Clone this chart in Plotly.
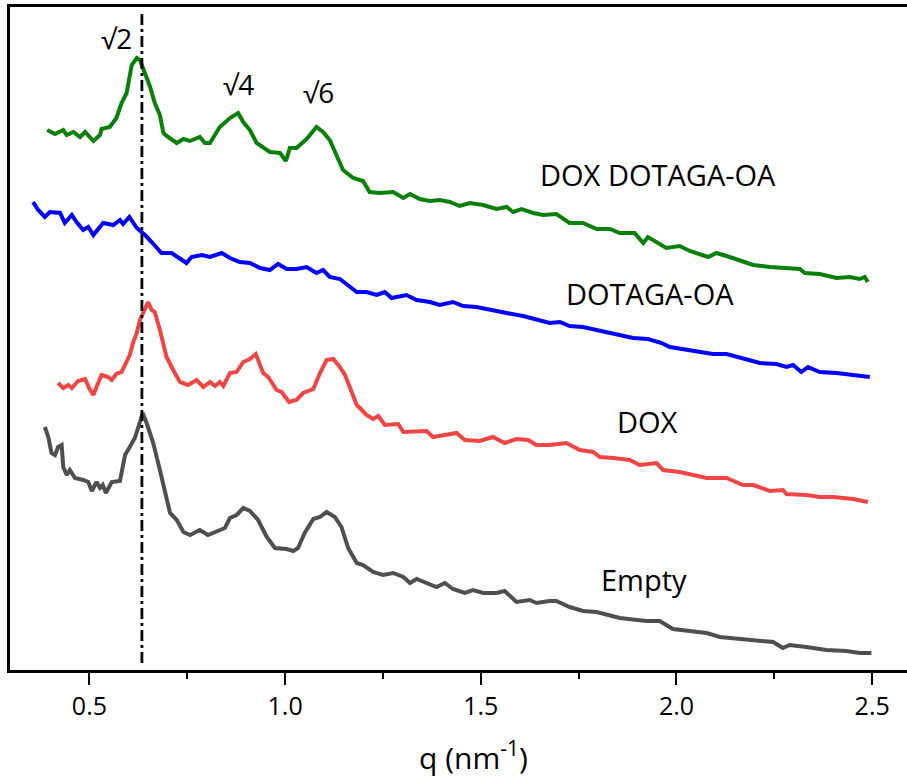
import plotly.graph_objects as go

# ---------------- data (q in nm^-1, intensity in arbitrary offset units) ----------------
q_green = [0.392, 0.412, 0.433, 0.442, 0.459, 0.476, 0.489, 0.510, 0.527, 0.531, 0.552, 0.569, 0.582, 0.595,
           0.608, 0.621, 0.629, 0.642, 0.655, 0.667, 0.680, 0.689, 0.697, 0.723, 0.740, 0.757, 0.782, 0.795,
           0.808, 0.833, 0.859, 0.880, 0.893, 0.910, 0.927, 0.961, 0.987, 1.002, 1.012, 1.029, 1.055, 1.080,
           1.097, 1.114, 1.131, 1.148, 1.174, 1.199, 1.216, 1.242, 1.276, 1.302, 1.319, 1.344, 1.370, 1.395,
           1.421, 1.446, 1.472, 1.506, 1.540, 1.566, 1.583, 1.604, 1.634, 1.659, 1.693, 1.727, 1.761, 1.796,
           1.830, 1.855, 1.893, 1.915, 1.927, 1.974, 2.008, 2.034, 2.081, 2.102, 2.136, 2.179, 2.196, 2.238,
           2.272, 2.315, 2.328, 2.366, 2.409, 2.443, 2.468, 2.481, 2.489]
i_green = [5.40, 5.36, 5.40, 5.35, 5.38, 5.33, 5.38, 5.29, 5.35, 5.41, 5.43, 5.52, 5.67, 5.77,
           6.05, 6.12, 6.10, 5.97, 5.83, 5.67, 5.55, 5.37, 5.34, 5.27, 5.31, 5.29, 5.33, 5.27,
           5.27, 5.43, 5.52, 5.57, 5.48, 5.40, 5.27, 5.18, 5.17, 5.09, 5.22, 5.22, 5.31, 5.43,
           5.38, 5.30, 5.15, 5.00, 4.92, 4.89, 4.78, 4.77, 4.78, 4.72, 4.76, 4.71, 4.69, 4.70,
           4.68, 4.64, 4.67, 4.65, 4.61, 4.63, 4.58, 4.61, 4.57, 4.55, 4.56, 4.47, 4.47, 4.41,
           4.41, 4.37, 4.37, 4.27, 4.33, 4.22, 4.24, 4.19, 4.13, 4.17, 4.13, 4.08, 4.05, 4.03,
           4.02, 4.01, 3.97, 3.96, 3.92, 3.93, 3.91, 3.93, 3.88]

q_blue = [0.356, 0.369, 0.386, 0.399, 0.425, 0.437, 0.455, 0.467, 0.484, 0.497, 0.510, 0.535, 0.561, 0.578,
          0.586, 0.602, 0.621, 0.642, 0.659, 0.672, 0.684, 0.710, 0.727, 0.748, 0.761, 0.787, 0.808, 0.838,
          0.859, 0.884, 0.910, 0.936, 0.961, 0.982, 1.004, 1.029, 1.055, 1.080, 1.097, 1.114, 1.140, 1.165,
          1.183, 1.208, 1.234, 1.255, 1.272, 1.310, 1.336, 1.370, 1.395, 1.429, 1.455, 1.489, 1.523, 1.566,
          1.608, 1.642, 1.676, 1.702, 1.727, 1.761, 1.796, 1.821, 1.855, 1.889, 1.927, 1.962, 1.983, 2.025,
          2.059, 2.093, 2.128, 2.170, 2.213, 2.255, 2.281, 2.298, 2.319, 2.336, 2.366, 2.409, 2.451, 2.494]
i_blue = [4.68, 4.60, 4.53, 4.58, 4.57, 4.47, 4.55, 4.48, 4.40, 4.43, 4.35, 4.47, 4.45, 4.50,
          4.46, 4.53, 4.42, 4.35, 4.28, 4.23, 4.17, 4.17, 4.12, 4.07, 4.13, 4.15, 4.13, 4.17,
          4.12, 4.08, 4.07, 4.02, 4.00, 4.06, 4.01, 4.01, 4.03, 3.97, 4.00, 3.93, 3.91, 3.83,
          3.78, 3.78, 3.75, 3.78, 3.72, 3.75, 3.70, 3.68, 3.65, 3.68, 3.64, 3.63, 3.60, 3.57,
          3.54, 3.51, 3.47, 3.48, 3.44, 3.43, 3.40, 3.37, 3.35, 3.32, 3.31, 3.27, 3.23, 3.20,
          3.18, 3.16, 3.16, 3.12, 3.07, 3.06, 3.03, 3.05, 2.98, 3.03, 2.98, 2.97, 2.95, 2.93]

q_red = [0.420, 0.433, 0.446, 0.455, 0.471, 0.489, 0.499, 0.510, 0.518, 0.531, 0.548, 0.557, 0.569, 0.582,
         0.591, 0.603, 0.612, 0.621, 0.629, 0.642, 0.650, 0.659, 0.667, 0.680, 0.697, 0.714, 0.731, 0.752,
         0.774, 0.791, 0.808, 0.821, 0.833, 0.842, 0.859, 0.876, 0.893, 0.910, 0.925, 0.944, 0.957, 0.978,
         0.991, 1.010, 1.029, 1.046, 1.072, 1.089, 1.106, 1.123, 1.136, 1.153, 1.170, 1.183, 1.191, 1.208,
         1.225, 1.238, 1.255, 1.272, 1.289, 1.302, 1.336, 1.361, 1.378, 1.412, 1.438, 1.459, 1.497, 1.531,
         1.561, 1.591, 1.621, 1.642, 1.676, 1.719, 1.753, 1.787, 1.804, 1.838, 1.881, 1.906, 1.949, 1.966,
         2.008, 2.077, 2.128, 2.170, 2.196, 2.238, 2.272, 2.281, 2.332, 2.366, 2.400, 2.451, 2.489]
i_red = [2.87, 2.82, 2.85, 2.82, 2.89, 2.91, 2.82, 2.75, 2.83, 2.95, 2.93, 2.90, 2.96, 2.98,
         3.05, 3.15, 3.28, 3.37, 3.50, 3.62, 3.68, 3.60, 3.58, 3.40, 3.13, 3.00, 2.88, 2.85,
         2.90, 2.83, 2.88, 2.84, 2.88, 2.84, 2.97, 2.98, 3.08, 3.11, 3.16, 2.97, 2.93, 2.80,
         2.78, 2.68, 2.70, 2.77, 2.81, 2.97, 3.10, 3.11, 3.05, 2.95, 2.77, 2.65, 2.62, 2.55,
         2.51, 2.54, 2.45, 2.46, 2.46, 2.38, 2.39, 2.39, 2.33, 2.35, 2.37, 2.30, 2.29, 2.33,
         2.27, 2.31, 2.30, 2.25, 2.25, 2.27, 2.20, 2.18, 2.13, 2.12, 2.10, 2.05, 2.07, 2.00,
         1.98, 1.92, 1.92, 1.85, 1.85, 1.79, 1.80, 1.76, 1.75, 1.73, 1.73, 1.71, 1.68]

q_gray = [0.386, 0.395, 0.403, 0.412, 0.420, 0.429, 0.433, 0.442, 0.450, 0.463, 0.484, 0.497, 0.506, 0.518,
          0.527, 0.534, 0.542, 0.557, 0.578, 0.591, 0.603, 0.616, 0.625, 0.636, 0.646, 0.663, 0.680, 0.693,
          0.706, 0.723, 0.740, 0.757, 0.782, 0.803, 0.825, 0.846, 0.859, 0.876, 0.893, 0.910, 0.931, 0.953,
          0.974, 1.004, 1.021, 1.033, 1.050, 1.072, 1.089, 1.106, 1.127, 1.144, 1.161, 1.183, 1.199, 1.225,
          1.250, 1.276, 1.302, 1.319, 1.336, 1.370, 1.387, 1.408, 1.429, 1.459, 1.480, 1.506, 1.540, 1.561,
          1.591, 1.625, 1.642, 1.676, 1.693, 1.727, 1.761, 1.796, 1.830, 1.855, 1.923, 1.957, 1.991, 2.034,
          2.077, 2.111, 2.145, 2.213, 2.247, 2.272, 2.289, 2.332, 2.383, 2.434, 2.468, 2.498]
i_gray = [2.43, 2.33, 2.17, 2.15, 2.23, 2.25, 2.03, 1.95, 2.00, 1.92, 1.90, 1.88, 1.79, 1.88,
          1.82, 1.85, 1.77, 1.88, 1.89, 2.15, 2.23, 2.32, 2.43, 2.57, 2.47, 2.27, 2.00, 1.77,
          1.57, 1.50, 1.38, 1.35, 1.40, 1.35, 1.39, 1.42, 1.52, 1.55, 1.62, 1.59, 1.50, 1.33,
          1.22, 1.21, 1.19, 1.22, 1.37, 1.51, 1.53, 1.58, 1.53, 1.43, 1.22, 1.07, 1.05, 0.98,
          0.95, 0.97, 0.93, 0.87, 0.91, 0.85, 0.83, 0.87, 0.81, 0.77, 0.80, 0.77, 0.77, 0.79,
          0.68, 0.70, 0.67, 0.69, 0.69, 0.63, 0.59, 0.58, 0.55, 0.52, 0.49, 0.49, 0.41, 0.39,
          0.37, 0.33, 0.32, 0.29, 0.28, 0.22, 0.25, 0.23, 0.20, 0.19, 0.17, 0.17]

ref_q = 0.634          # position of the dash-dot reference line
ref_span = [0.07, 6.58]

peak_labels = ["√2", "√4", "√6"]
peak_q = [0.568, 0.882, 1.084]
peak_i = [6.32, 5.86, 5.78]

series_names = ["DOX DOTAGA-OA", "DOTAGA-OA", "DOX", "Empty"]
name_q = [1.952, 1.932, 1.926, 1.916]
name_i = [4.96, 3.77, 2.49, 0.91]

tick_vals = [0.5, 1.0, 1.5, 2.0, 2.5]
tick_text = ["0.5", "1.0", "1.5", "2.0", "2.5"]

# ---------------- figure ----------------
FONT = "Open Sans"
fig = go.Figure()

series = [
    (q_gray, i_gray, "#4f4f4f"),
    (q_red, i_red, "#f04545"),
    (q_blue, i_blue, "#0000ff"),
    (q_green, i_green, "#0a800a"),
]
for qs, vals, col in series:
    fig.add_trace(go.Scatter(x=qs, y=vals, mode="lines",
                             line=dict(color=col, width=4), showlegend=False))

fig.add_trace(go.Scatter(x=[ref_q, ref_q], y=ref_span, mode="lines",
                         line=dict(color="black", width=2.8, dash="11px,4px,3px,4px"),
                         showlegend=False))

for t, xq, yi in zip(peak_labels, peak_q, peak_i):
    fig.add_annotation(x=xq, y=yi, text=t, showarrow=False,
                       font=dict(family=FONT, size=28, color="black"))
for t, xq, yi in zip(series_names, name_q, name_i):
    fig.add_annotation(x=xq, y=yi, text=t, showarrow=False,
                       font=dict(family=FONT, size=29, color="black"))

fig.add_annotation(x=1.482, y=-0.13, yref="paper", text="q (nm<sup>-1</sup>)",
                   showarrow=False, yanchor="middle",
                   font=dict(family=FONT, size=30, color="black"))

fig.update_layout(
    width=907, height=780,
    margin=dict(l=10, r=0, t=7, b=110),
    paper_bgcolor="white", plot_bgcolor="white",
    xaxis=dict(range=[0.297, 2.589], showgrid=False, zeroline=False,
               showline=True, linecolor="black", linewidth=2.5, mirror=True,
               ticks="outside", ticklen=12, tickwidth=2, tickcolor="black",
               tickvals=tick_vals, ticktext=tick_text,
               tickfont=dict(family=FONT, size=25, color="black"),
               minor=dict(dtick=0.25, tick0=0.25, ticks="outside", ticklen=6,
                          tickwidth=2, tickcolor="black", showgrid=False)),
    yaxis=dict(range=[0, 6.63], showgrid=False, zeroline=False,
               showline=True, linecolor="black", linewidth=2.5,
               showticklabels=False, ticks=""),
)

fig.write_html("out.html", config={"displayModeBar": False},
               post_script="document.body.style.margin='0px';document.body.style.padding='0px';")
